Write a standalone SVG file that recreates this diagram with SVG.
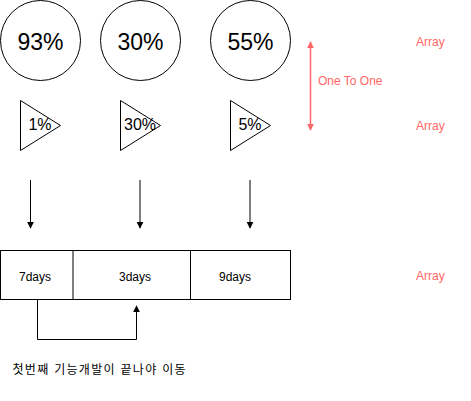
<svg xmlns="http://www.w3.org/2000/svg" width="471" height="401" viewBox="0 0 471 401">
<style>
.shape{fill:#fff;stroke:#000;stroke-width:1}
.t{font-family:"Liberation Sans",Arial,sans-serif;fill:#000;text-anchor:middle}
.big{font-size:23px}
.mid{font-size:16px}
.sm{font-size:12px}
.red{font-family:"Liberation Sans",Arial,sans-serif;font-size:12px;fill:#FF6666}
.edge{fill:none;stroke:#000;stroke-width:1}
.kr{font-family:"Liberation Sans","Noto Sans CJK KR",sans-serif;font-size:12px;fill:#000;letter-spacing:1.3px}
</style>
<defs>
<marker id="ah" viewBox="0 0 10 10" refX="9" refY="5" markerWidth="7" markerHeight="7" markerUnits="userSpaceOnUse" orient="auto">
<path d="M0,0 L10,5 L0,10 z" fill="#000"/>
</marker>
<marker id="ahr" viewBox="0 0 10 10" refX="9" refY="5" markerWidth="7" markerHeight="7" markerUnits="userSpaceOnUse" orient="auto-start-reverse">
<path d="M0,0 L10,5 L0,10 z" fill="#FF6666"/>
</marker>
</defs>
<rect width="471" height="401" fill="#fff"/>
<g id="circle93"><circle class="shape" cx="40.5" cy="40.5" r="40"/><text class="t big" x="40.5" y="49.5">93%</text></g>
<g id="circle30"><circle class="shape" cx="140.5" cy="40.5" r="40"/><text class="t big" x="140.5" y="49.5">30%</text></g>
<g id="circle55"><circle class="shape" cx="250.5" cy="40.5" r="40"/><text class="t big" x="250.5" y="49.5">55%</text></g>
<g id="tri1"><path class="shape" d="M20.5,100.5 L60.5,125.5 L20.5,150.5 Z"/><text class="t mid" x="40" y="130">1%</text></g>
<g id="tri30"><path class="shape" d="M120.5,100.5 L160.5,125.5 L120.5,150.5 Z"/><text class="t mid" x="140" y="130">30%</text></g>
<g id="tri5"><path class="shape" d="M230.5,100.5 L270.5,125.5 L230.5,150.5 Z"/><text class="t mid" x="250" y="130">5%</text></g>
<g id="days">
<rect class="shape" x="0.5" y="250.5" width="290" height="49"/>
<line class="edge" x1="73" y1="250.5" x2="73" y2="299.5"/>
<line class="edge" x1="190.5" y1="250.5" x2="190.5" y2="299.5"/>
<text class="t sm" x="35" y="280.5">7days</text>
<text class="t sm" x="135" y="280.5">3days</text>
<text class="t sm" x="235" y="280.5">9days</text>
</g>
<g id="connectors">
<line class="edge" x1="30.5" y1="180" x2="30.5" y2="228" marker-end="url(#ah)"/>
<line class="edge" x1="140" y1="180" x2="140" y2="228" marker-end="url(#ah)"/>
<line class="edge" x1="250" y1="180" x2="250" y2="228" marker-end="url(#ah)"/>
<polyline class="edge" points="37.5,300 37.5,339.5 136.5,339.5 136.5,306" marker-end="url(#ah)"/>
<line x1="310.5" y1="42" x2="310.5" y2="130" stroke="#FF6666" stroke-width="1.5" marker-start="url(#ahr)" marker-end="url(#ahr)"/>
</g>
<text class="red" x="318" y="85">One To One</text>
<text class="red" x="416" y="46">Array</text>
<text class="red" x="416" y="130">Array</text>
<text class="red" x="416" y="280">Array</text>
<text class="kr" x="12.5" y="374">첫번째 기능개발이 끝나야 이동</text>
</svg>
